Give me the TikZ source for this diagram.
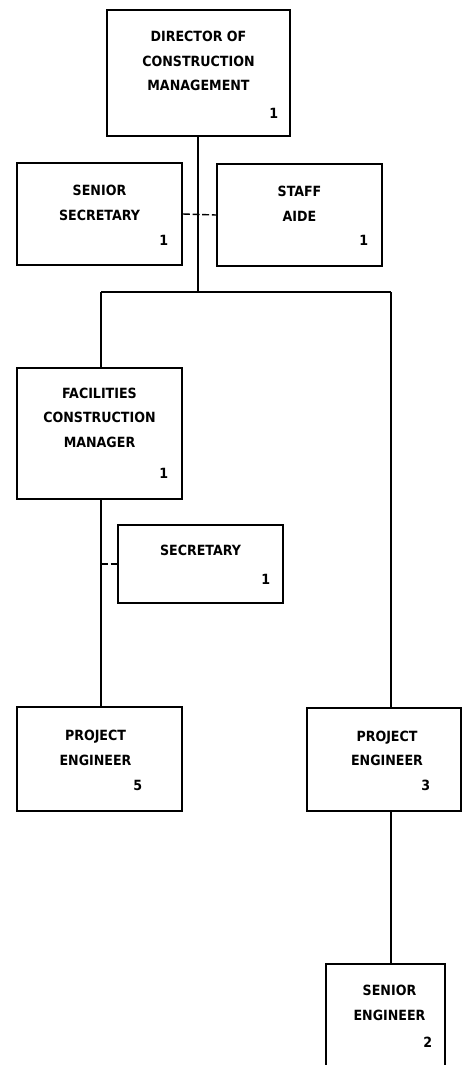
\documentclass[tikz,border=0pt]{standalone}
\usepackage{fontspec}
\setmainfont{DejaVu Sans Condensed}
\usetikzlibrary{positioning, calc}

\begin{document}
\begin{tikzpicture}[
      x=0.02cm, y=-0.02cm,
      unit/.style={rectangle, draw, line width=1pt, inner sep=0pt},
      title/.style={align=center, font=\bfseries\fontsize{8}{14}\selectfont, inner sep=0pt},
      count/.style={font=\bfseries\fontsize{8}{10}\selectfont, inner sep=0pt},
      link/.style={line width=1pt},
      staff/.style={line width=0.8pt, dash pattern=on 4pt off 1.5pt}
    ]
    \clip (0,0) rectangle (462,1065);

    % boxes
    \node[unit, minimum width=3.66cm, minimum height=2.52cm] (dir) at (198.5,73) {};
    \node[unit, minimum width=3.3cm, minimum height=2.04cm] (ssec) at (99.5,214) {};
    \node[unit, minimum width=3.3cm, minimum height=2.04cm] (aide) at (299.5,215) {};
    \node[unit, minimum width=3.3cm, minimum height=2.62cm] (fcm) at (99.5,433.5) {};
    \node[unit, minimum width=3.3cm, minimum height=1.56cm] (sec) at (200.5,564) {};
    \node[unit, minimum width=3.3cm, minimum height=2.08cm] (pe5) at (99.5,759) {};
    \node[unit, minimum width=3.08cm, minimum height=2.06cm] (pe3) at (384,759.5) {};
    \node[unit, minimum width=2.38cm, minimum height=2.4cm] (seng) at (385.5,1024) {};

    % titles
    \node[title] (dir-t) at ($(dir.center)+(0,-12)$) {DIRECTOR OF\\CONSTRUCTION\\MANAGEMENT};
    \node[title] (ssec-t) at ($(ssec.center)+(0,-11)$) {SENIOR\\SECRETARY};
    \node[title] (aide-t) at ($(aide.center)+(0,-11)$) {STAFF\\AIDE};
    \node[title] (fcm-t) at ($(fcm.center)+(0,-16)$) {FACILITIES\\CONSTRUCTION\\MANAGER};
    \node[title] (sec-t) at ($(sec.center)+(0,-14)$) {SECRETARY};
    \node[title] (pe5-t) at ($(pe5.center)+(-4,-11)$) {PROJECT\\ENGINEER};
    \node[title] (pe3-t) at ($(pe3.center)+(3,-11)$) {PROJECT\\ENGINEER};
    \node[title] (seng-t) at ($(seng.north)+(4,40)$) {SENIOR\\ENGINEER};

    % counts
    \node[count] (dir-n) at ($(dir.south east)+(-17,-23)$) {1};
    \node[count] (ssec-n) at ($(ssec.south east)+(-19,-25)$) {1};
    \node[count] (aide-n) at ($(aide.south east)+(-19,-26)$) {1};
    \node[count] (fcm-n) at ($(fcm.south east)+(-19,-26)$) {1};
    \node[count] (sec-n) at ($(sec.south east)+(-18,-25)$) {1};
    \node[count] (pe5-n) at ($(pe5.south east)+(-45,-26)$) {5};
    \node[count] (pe3-n) at ($(pe3.south east)+(-36,-26)$) {3};
    \node[count] (seng-n) at ($(seng.north east)+(-18,79)$) {2};

    % lines
    \coordinate (bar) at (198,292);
    \coordinate (lbar) at (101,292);
    \coordinate (rbar) at (391,292);
    \draw[link] (dir.south -| bar) -- (bar);
    \draw[link] (lbar) -- (rbar);
    \draw[link] (lbar) -- (lbar |- fcm.north);
    \draw[link] (rbar) -- (rbar |- pe3.north);
    \draw[staff] (ssec.east) -- (aide.west);
    \draw[link] (fcm.south -| lbar) -- (pe5.north -| lbar);
    \draw[staff] (sec.west -| lbar) -- (sec.west);
    \draw[link] (pe3.south -| rbar) -- (seng.north -| rbar);

  \end{tikzpicture}
\end{document}
